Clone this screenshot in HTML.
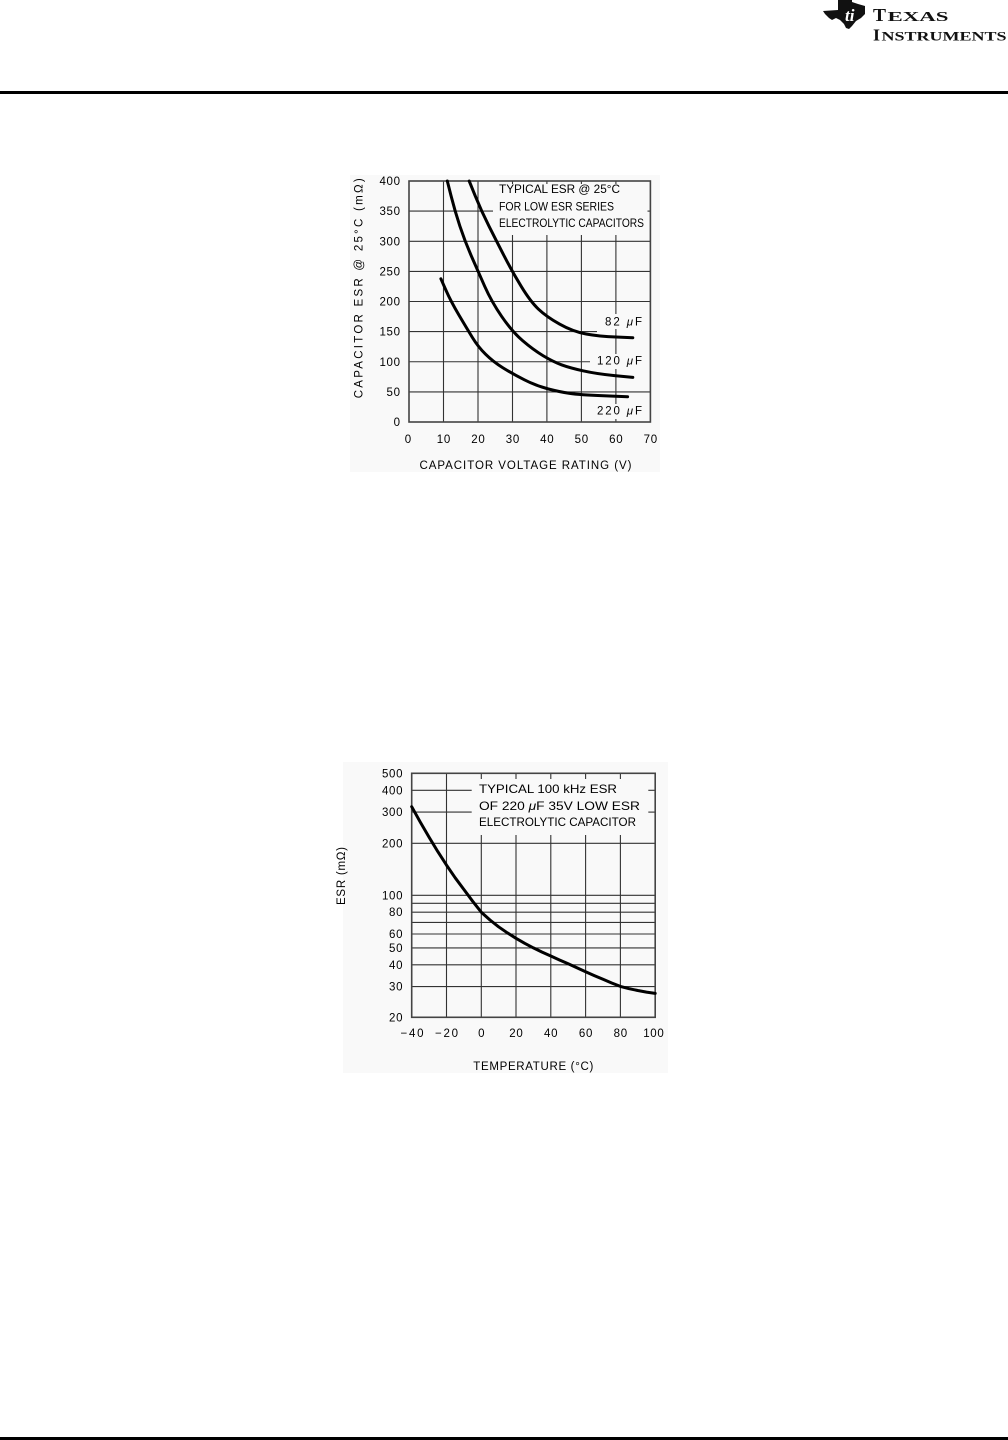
<!DOCTYPE html>
<html>
<head>
<meta charset="utf-8">
<style>
html,body{margin:0;padding:0;background:#fff;}
svg{display:block;}
.t{font-family:"Liberation Sans",sans-serif;font-size:11.5px;fill:#000;}
.b{font-family:"Liberation Sans",sans-serif;font-size:12px;fill:#000;}
.lg{font-family:"Liberation Serif",serif;fill:#111;font-weight:bold;}
</style>
</head>
<body>
<svg width="1008" height="1440" viewBox="0 0 1008 1440" xmlns="http://www.w3.org/2000/svg">
<rect x="0" y="91" width="1008" height="3" fill="#000"/>
<rect x="0" y="1437" width="1008" height="3" fill="#000"/>
<!-- TI logo -->
<polygon points="838,0 852,0 852,2 858,4 865,6 865,14 861,18 856,21 852,26 849,29 846,28 844,24 840,20 836,18 832,20 829,18 825,14 823,11 838,10" fill="#111"/>
<text x="845" y="21" font-family="Liberation Serif,serif" font-size="17" font-style="italic" font-weight="bold" fill="#fff">ti</text>
<text class="lg" x="873" y="21" font-size="18" textLength="13" lengthAdjust="spacingAndGlyphs">T</text>
<text class="lg" x="887.5" y="21" font-size="13.5" textLength="61" lengthAdjust="spacingAndGlyphs">EXAS</text>
<text class="lg" x="873" y="40.7" font-size="16.5" textLength="7" lengthAdjust="spacingAndGlyphs">I</text>
<text class="lg" x="881.5" y="40.7" font-size="12.8" textLength="125" lengthAdjust="spacingAndGlyphs">NSTRUMENTS</text>

<!-- ============ TOP CHART ============ -->
<rect x="350" y="175" width="310" height="297" fill="#f9f9f9"/>
<g stroke="#333" stroke-width="1.1" fill="none">
  <line x1="443.5" y1="181" x2="443.5" y2="422"/>
  <line x1="478" y1="181" x2="478" y2="422"/>
  <line x1="512.5" y1="181" x2="512.5" y2="184"/>
  <line x1="512.5" y1="235" x2="512.5" y2="422"/>
  <line x1="546.9" y1="181" x2="546.9" y2="184"/>
  <line x1="546.9" y1="235" x2="546.9" y2="422"/>
  <line x1="581.4" y1="181" x2="581.4" y2="184"/>
  <line x1="581.4" y1="235" x2="581.4" y2="422"/>
  <line x1="615.9" y1="181" x2="615.9" y2="184"/>
  <line x1="615.9" y1="235" x2="615.9" y2="422"/>
  <line x1="409" y1="211.1" x2="493" y2="211.1"/>
  <line x1="647.5" y1="211.1" x2="650.4" y2="211.1"/>
  <line x1="409" y1="241.3" x2="650.4" y2="241.3"/>
  <line x1="409" y1="271.4" x2="650.4" y2="271.4"/>
  <line x1="409" y1="301.5" x2="650.4" y2="301.5"/>
  <line x1="409" y1="331.6" x2="597" y2="331.6"/>
  <line x1="409" y1="361.75" x2="590" y2="361.75"/>
  <line x1="409" y1="391.9" x2="650.4" y2="391.9"/>
</g>
<rect x="409" y="181" width="241.4" height="241" fill="none" stroke="#444" stroke-width="1.6"/>
<rect x="602" y="314" width="44" height="15" fill="#f9f9f9"/>
<rect x="594" y="354" width="52" height="15" fill="#f9f9f9"/>
<rect x="594" y="404" width="52" height="15" fill="#f9f9f9"/>
<g stroke="#000" stroke-width="3" fill="none" stroke-linecap="round" stroke-linejoin="round">
  <path d="M469.2,181 L475.3,196.05 Q481.4,211.1 489,226.2 Q496.6,241.3 504.35,256.35 Q512.1,271.4 521.25,286.45 Q530.4,301.5 538.35,309.05 Q546.3,316.6 559.55,324.1 Q572.8,331.6 586.1,334 Q599.4,336.4 616.1,337.05 L632.8,337.7"/>
  <path d="M447.3,181 L451.1,196.05 Q454.9,211.1 459.9,226.2 Q464.9,241.3 471.5,256.35 Q478.1,271.4 484.75,286.45 Q491.4,301.5 501.75,316.55 Q512.1,331.6 522.6,340.65 Q533.1,349.7 543.15,355.73 Q553.2,361.75 561.45,364.78 Q569.7,367.8 583,370.8 Q596.3,373.8 614.55,375.6 L632.8,377.4"/>
  <path d="M440.9,278.8 L445.9,290.15 Q450.9,301.5 458.75,314.75 Q466.6,328 472.3,337.35 Q478,346.7 485.55,354.23 Q493.1,361.75 502.8,367.78 Q512.5,373.8 524.4,379.83 Q536.3,385.85 548,388.88 Q559.7,391.9 569.7,393.4 Q579.7,394.9 603.65,395.8 L627.6,396.7"/>
</g>
<text class="b" x="499" y="193" textLength="121" lengthAdjust="spacingAndGlyphs">TYPICAL ESR @ 25°C</text>
<text class="b" x="499" y="210.5" textLength="115" lengthAdjust="spacingAndGlyphs">FOR LOW ESR SERIES</text>
<text class="b" x="499" y="227" textLength="145" lengthAdjust="spacingAndGlyphs">ELECTROLYTIC CAPACITORS</text>
<text class="t" x="605" y="325.5" textLength="37" lengthAdjust="spacing">82 <tspan font-style="italic">μ</tspan>F</text>
<text class="t" x="597" y="364.5" textLength="45" lengthAdjust="spacing">120 <tspan font-style="italic">μ</tspan>F</text>
<text class="t" x="597" y="414.5" textLength="45" lengthAdjust="spacing">220 <tspan font-style="italic">μ</tspan>F</text>
<g text-anchor="end">
  <text class="t" x="400" y="185" textLength="20.5" lengthAdjust="spacing">400</text>
  <text class="t" x="400" y="215.1" textLength="20.5" lengthAdjust="spacing">350</text>
  <text class="t" x="400" y="245.3" textLength="20.5" lengthAdjust="spacing">300</text>
  <text class="t" x="400" y="275.4" textLength="20.5" lengthAdjust="spacing">250</text>
  <text class="t" x="400" y="305.5" textLength="20.5" lengthAdjust="spacing">200</text>
  <text class="t" x="400" y="335.6" textLength="20.5" lengthAdjust="spacing">150</text>
  <text class="t" x="400" y="365.75" textLength="20.5" lengthAdjust="spacing">100</text>
  <text class="t" x="400" y="395.9" textLength="13.5" lengthAdjust="spacing">50</text>
  <text class="t" x="400" y="426">0</text>
</g>
<g text-anchor="middle">
  <text class="t" x="408" y="443">0</text>
  <text class="t" x="443.5" y="443" textLength="13.5" lengthAdjust="spacing">10</text>
  <text class="t" x="478" y="443" textLength="13.5" lengthAdjust="spacing">20</text>
  <text class="t" x="512.5" y="443" textLength="13.5" lengthAdjust="spacing">30</text>
  <text class="t" x="546.9" y="443" textLength="13.5" lengthAdjust="spacing">40</text>
  <text class="t" x="581.4" y="443" textLength="13.5" lengthAdjust="spacing">50</text>
  <text class="t" x="615.9" y="443" textLength="13.5" lengthAdjust="spacing">60</text>
  <text class="t" x="650.4" y="443" textLength="13.5" lengthAdjust="spacing">70</text>
</g>
<text class="t" x="525.5" y="469" text-anchor="middle" textLength="212" lengthAdjust="spacing">CAPACITOR VOLTAGE RATING (V)</text>
<text class="t" transform="translate(362.5,288.3) rotate(-90)" x="0" y="0" text-anchor="middle" textLength="220" lengthAdjust="spacing">CAPACITOR ESR @ 25°C (mΩ)</text>

<!-- ============ BOTTOM CHART ============ -->
<rect x="343" y="762" width="325" height="311" fill="#f9f9f9"/>
<g stroke="#333" stroke-width="1.1" fill="none">
  <line x1="446.5" y1="773.3" x2="446.5" y2="1017.3"/>
  <line x1="481.3" y1="773.3" x2="481.3" y2="779"/>
  <line x1="481.3" y1="835" x2="481.3" y2="1017.3"/>
  <line x1="516" y1="773.3" x2="516" y2="779"/>
  <line x1="516" y1="835" x2="516" y2="1017.3"/>
  <line x1="550.8" y1="773.3" x2="550.8" y2="779"/>
  <line x1="550.8" y1="835" x2="550.8" y2="1017.3"/>
  <line x1="585.6" y1="773.3" x2="585.6" y2="779"/>
  <line x1="585.6" y1="835" x2="585.6" y2="1017.3"/>
  <line x1="620.4" y1="773.3" x2="620.4" y2="779"/>
  <line x1="620.4" y1="835" x2="620.4" y2="1017.3"/>
  <line x1="411.7" y1="790.3" x2="471.7" y2="790.3"/>
  <line x1="648.3" y1="790.3" x2="655.2" y2="790.3"/>
  <line x1="411.7" y1="812.1" x2="471.7" y2="812.1"/>
  <line x1="648.3" y1="812.1" x2="655.2" y2="812.1"/>
  <line x1="411.7" y1="843.3" x2="655.2" y2="843.3"/>
  <line x1="411.7" y1="895.3" x2="655.2" y2="895.3"/>
  <line x1="411.7" y1="903.3" x2="655.2" y2="903.3"/>
  <line x1="411.7" y1="912.2" x2="655.2" y2="912.2"/>
  <line x1="411.7" y1="922.4" x2="655.2" y2="922.4"/>
  <line x1="411.7" y1="934" x2="655.2" y2="934"/>
  <line x1="411.7" y1="947.9" x2="655.2" y2="947.9"/>
  <line x1="411.7" y1="964.8" x2="655.2" y2="964.8"/>
  <line x1="411.7" y1="986.6" x2="655.2" y2="986.6"/>
</g>
<rect x="411.7" y="773.3" width="243.5" height="244" fill="none" stroke="#444" stroke-width="1.6"/>
<polyline points="411.7,806.7 420.4,822.3 429.1,837.3 437.8,851.6 446.5,865.1 455.2,877.8 463.9,889.5 472.6,901.2 481.3,912.2 490,920 498.6,926.8 507.3,932.8 516,938.3 524.7,943.3 533.4,947.9 542.1,952.1 550.8,956 559.5,960 568.2,963.8 576.9,967.8 585.6,971.7 594.3,975.6 603,979.3 611.7,983 620.4,986.4 629.1,988.7 637.8,990.5 646.5,992.1 655.2,993.4" fill="none" stroke="#000" stroke-width="3" stroke-linejoin="round" stroke-linecap="round"/>
<text class="b" x="479" y="793" textLength="138" lengthAdjust="spacingAndGlyphs">TYPICAL 100 kHz ESR</text>
<text class="b" x="479" y="810" textLength="161" lengthAdjust="spacingAndGlyphs">OF 220 <tspan font-style="italic">μ</tspan>F 35V LOW ESR</text>
<text class="b" x="479" y="826" textLength="157" lengthAdjust="spacingAndGlyphs">ELECTROLYTIC CAPACITOR</text>
<g text-anchor="end">
  <text class="t" x="402.5" y="777.3" textLength="20.5" lengthAdjust="spacing">500</text>
  <text class="t" x="402.5" y="794.3" textLength="20.5" lengthAdjust="spacing">400</text>
  <text class="t" x="402.5" y="816.1" textLength="20.5" lengthAdjust="spacing">300</text>
  <text class="t" x="402.5" y="847.3" textLength="20.5" lengthAdjust="spacing">200</text>
  <text class="t" x="402.5" y="899.3" textLength="20.5" lengthAdjust="spacing">100</text>
  <text class="t" x="402.5" y="916.2" textLength="13.5" lengthAdjust="spacing">80</text>
  <text class="t" x="402.5" y="938" textLength="13.5" lengthAdjust="spacing">60</text>
  <text class="t" x="402.5" y="951.9" textLength="13.5" lengthAdjust="spacing">50</text>
  <text class="t" x="402.5" y="968.8" textLength="13.5" lengthAdjust="spacing">40</text>
  <text class="t" x="402.5" y="990.6" textLength="13.5" lengthAdjust="spacing">30</text>
  <text class="t" x="402.5" y="1021.3" textLength="13.5" lengthAdjust="spacing">20</text>
</g>
<g text-anchor="middle">
  <text class="t" x="412" y="1037" textLength="23" lengthAdjust="spacing">−40</text>
  <text class="t" x="446.5" y="1037" textLength="23" lengthAdjust="spacing">−20</text>
  <text class="t" x="481.3" y="1037">0</text>
  <text class="t" x="516" y="1037" textLength="13.5" lengthAdjust="spacing">20</text>
  <text class="t" x="550.8" y="1037" textLength="13.5" lengthAdjust="spacing">40</text>
  <text class="t" x="585.6" y="1037" textLength="13.5" lengthAdjust="spacing">60</text>
  <text class="t" x="620.4" y="1037" textLength="13.5" lengthAdjust="spacing">80</text>
  <text class="t" x="653.5" y="1037" textLength="20.5" lengthAdjust="spacing">100</text>
</g>
<text class="t" x="533.3" y="1070" text-anchor="middle" textLength="120" lengthAdjust="spacing">TEMPERATURE (°C)</text>
<text class="t" transform="translate(345,876) rotate(-90)" x="0" y="0" text-anchor="middle" textLength="58" lengthAdjust="spacing">ESR (mΩ)</text>
</svg>
</body>
</html>
